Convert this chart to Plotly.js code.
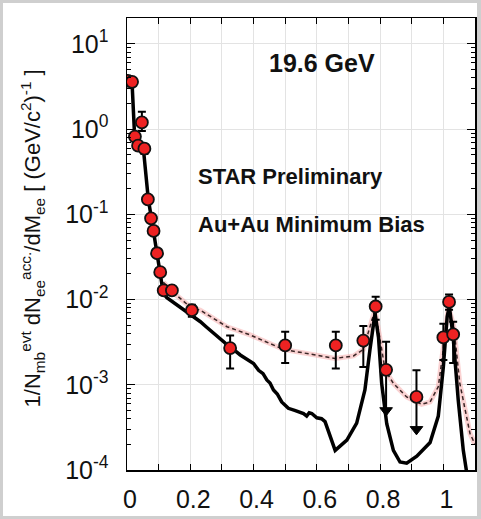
<!DOCTYPE html>
<html><head><meta charset="utf-8">
<script src="https://cdn.plot.ly/plotly-3.0.1.min.js"></script>
<style>
html,body{margin:0;padding:0;background:#cfcfcf;width:481px;height:519px;overflow:hidden}
#chart{position:absolute;left:3px;top:3px;width:474px;height:513px;background:#fff}
</style></head>
<body><div id="chart"></div>
<script>
// Data points (M_ee in GeV/c^2, yield)
const massX = [0.003,0.016,0.025,0.035,0.047,0.055,0.066,0.076,0.084,0.095,0.105,0.116,0.142,0.205,0.326,0.50,0.66,0.747,0.786,0.819,0.915,1.000,1.018,1.031];
const yieldY = [3.7,3.6,0.82,0.64,1.2,0.59,0.15,0.090,0.064,0.035,0.021,0.0128,0.0128,0.0075,0.0027,0.0029,0.0029,0.0033,0.0083,0.0015,0.00072,0.0036,0.0094,0.0039];
const errPlus = [0.2,0.2,0.08,0.06,0.4,0.08,0.015,0.008,0.006,0.003,0.002,0.0015,0.0015,0.0012,0.0011,0.0013,0.0013,0.0016,0.0025,0.0017,0.00076,0.0016,0.0021,0.0016];
const errMinus = [0.2,0.2,0.08,0.06,0.25,0.08,0.015,0.008,0.006,0.003,0.002,0.0015,0.0015,0.0012,0.00115,0.0011,0.00135,0.00168,0.0025,0,0,0.00165,0.0018,0.0021];
// Upper-limit points (index into arrays) and arrow tips
const limitIdx = [19,20];
const limitTip = [0.0005,0.0003];

// Cocktail (solid black)
const cockX = [0.002,0.016,0.023,0.026,0.034,0.052,0.067,0.077,0.085,0.096,0.105,0.115,0.126,0.16,0.205,0.215,0.232,0.25,0.274,0.29,0.31,0.326,0.342,0.358,0.37,0.389,0.40,0.416,0.43,0.442,0.452,0.463,0.475,0.489,0.50,0.51,0.53,0.547,0.558,0.568,0.576,0.584,0.592,0.60,0.615,0.626,0.658,0.695,0.726,0.752,0.768,0.784,0.795,0.805,0.821,0.842,0.863,0.884,0.916,0.958,0.984,1.0,1.012,1.019,1.031,1.047,1.063,1.074,1.085];
const cockY = [3.7,3.5,1.0,0.8,0.62,0.58,0.155,0.09,0.063,0.035,0.021,0.0118,0.0105,0.0085,0.0066,0.0062,0.0055,0.0048,0.0040,0.0036,0.0031,0.0026,0.0025,0.00224,0.0021,0.00187,0.00178,0.00148,0.00135,0.00114,0.00105,0.00087,0.00078,0.00063,0.00058,0.00053,0.0005,0.00047,0.00046,0.00043,0.00047,0.00046,0.00044,0.00041,0.0004,0.00037,0.00017,0.000224,0.000355,0.00087,0.0026,0.0069,0.0036,0.00104,0.00035,0.00017,0.000124,0.00012,0.000145,0.00021,0.00043,0.00163,0.0063,0.0083,0.0036,0.00066,0.00017,0.0001,0.00005];

// Model sum (dashed)
const sumX = [0.115,0.142,0.2,0.232,0.316,0.389,0.495,0.6,0.658,0.716,0.747,0.768,0.784,0.8,0.816,0.842,0.884,0.931,0.958,0.984,1.0,1.016,1.033,1.052,1.084,1.1];
const sumY = [0.016,0.0125,0.0082,0.0075,0.0048,0.00385,0.0026,0.00224,0.00204,0.00218,0.0026,0.0048,0.0076,0.0034,0.00148,0.00104,0.00072,0.00059,0.00063,0.00095,0.0026,0.0083,0.0048,0.00104,0.00027,0.0002];

const yTickVals = [1e-4,1e-3,1e-2,1e-1,1,10];
const yTickText = ['10<sup>-4</sup>','10<sup>-3</sup>','10<sup>-2</sup>','10<sup>-1</sup>','10<sup>0</sup>','10<sup>1</sup>'];
const xTickVals = [0,0.1,0.2,0.3,0.4,0.5,0.6,0.7,0.8,0.9,1.0,1.1];
const xTickText = ['0','','0.2','','0.4','','0.6','','0.8','','1',''];

const traces = [
  {x: sumX, y: sumY, mode:'lines', line:{color:'rgba(245,165,165,0.5)', width:5}, hoverinfo:'skip', showlegend:false},
  {x: sumX, y: sumY, mode:'lines', line:{color:'#3a2626', width:1.5, dash:'4px,3px'}, showlegend:false},
  {x: cockX, y: cockY, mode:'lines', line:{color:'#000', width:3.5}, showlegend:false},
];
limitIdx.forEach((k,i)=>{
  traces.push({x:[massX[k],massX[k]], y:[yieldY[k],limitTip[i]], mode:'lines+markers',
    line:{color:'#000',width:2}, marker:{symbol:'triangle-down', size:[0,11], opacity:1, color:'#000', line:{color:'#000', width:1}}, showlegend:false});
});
traces.push({x: massX, y: yieldY, mode:'markers',
  marker:{color:'#ee2222', size:12, opacity:1, line:{color:'#111', width:1.8}},
  error_y:{type:'data', symmetric:false, array: errPlus, arrayminus: errMinus, color:'#000', thickness:2, width:4},
  showlegend:false});

const font = 'Liberation Sans, Arial, sans-serif';
const layout = {
  width:474, height:513,
  margin:{l:124, r:2, t:15, b:46},
  paper_bgcolor:'#fff', plot_bgcolor:'#fff',
  font:{family:font, color:'#111'},
  xaxis:{range:[0,1.1], tickmode:'array', tickvals:xTickVals, ticktext:xTickText,
    ticks:'inside', ticklen:6, tickwidth:1, tickcolor:'#000', showline:true, linecolor:'#000', linewidth:1.5, mirror:'allticks',
    showgrid:true, gridcolor:'#e3e3e3', gridwidth:1, zeroline:false, tickfont:{size:25, family:font, color:'#111'}, ticklabelstandoff:6, ticklabelshift:3},
  yaxis:{type:'log', range:[-4,1.305], tickmode:'array', tickvals:yTickVals, ticktext:yTickText,
    ticks:'inside', ticklen:8, tickwidth:1, tickcolor:'#000', showline:true, linecolor:'#000', linewidth:1.5, mirror:'allticks',
    showgrid:true, gridcolor:'#e3e3e3', gridwidth:1, zeroline:false, tickfont:{size:25, family:font, color:'#111'}, ticklabelstandoff:12,
    minor:{dtick:'D1', ticks:'inside', ticklen:4, tickwidth:1, tickcolor:'#000', showgrid:false}},
  annotations:[
    {xref:'x', yref:'y', x:0.617, y:0.777, text:'<b>19.6 GeV</b>', showarrow:false, font:{size:25, family:font, color:'#111'}, xanchor:'center', yanchor:'middle'},
    {xref:'x', yref:'y', x:0.218, y:-0.561, text:'<b>STAR Preliminary</b>', showarrow:false, font:{size:22, family:font, color:'#111'}, xanchor:'left', yanchor:'middle'},
    {xref:'x', yref:'y', x:0.218, y:-1.113, text:'<b>Au+Au Minimum Bias</b>', showarrow:false, font:{size:22, family:font, color:'#111'}, xanchor:'left', yanchor:'middle'},
    {xref:'paper', yref:'paper', x:-0.272, y:0.513, textangle:-90, showarrow:false,
      text:'1/N<sub>mb</sub><sup>evt</sup> dN<sub>ee</sub><sup>acc.</sup>/dM<sub>ee</sub> [ (GeV/c<sup>2</sup>)<sup>-1</sup> ]',
      font:{size:22, family:font, color:'#111'}, xanchor:'center', yanchor:'middle'}
  ]
};
Plotly.newPlot('chart', traces, layout, {staticPlot:true});
</script></body></html>
